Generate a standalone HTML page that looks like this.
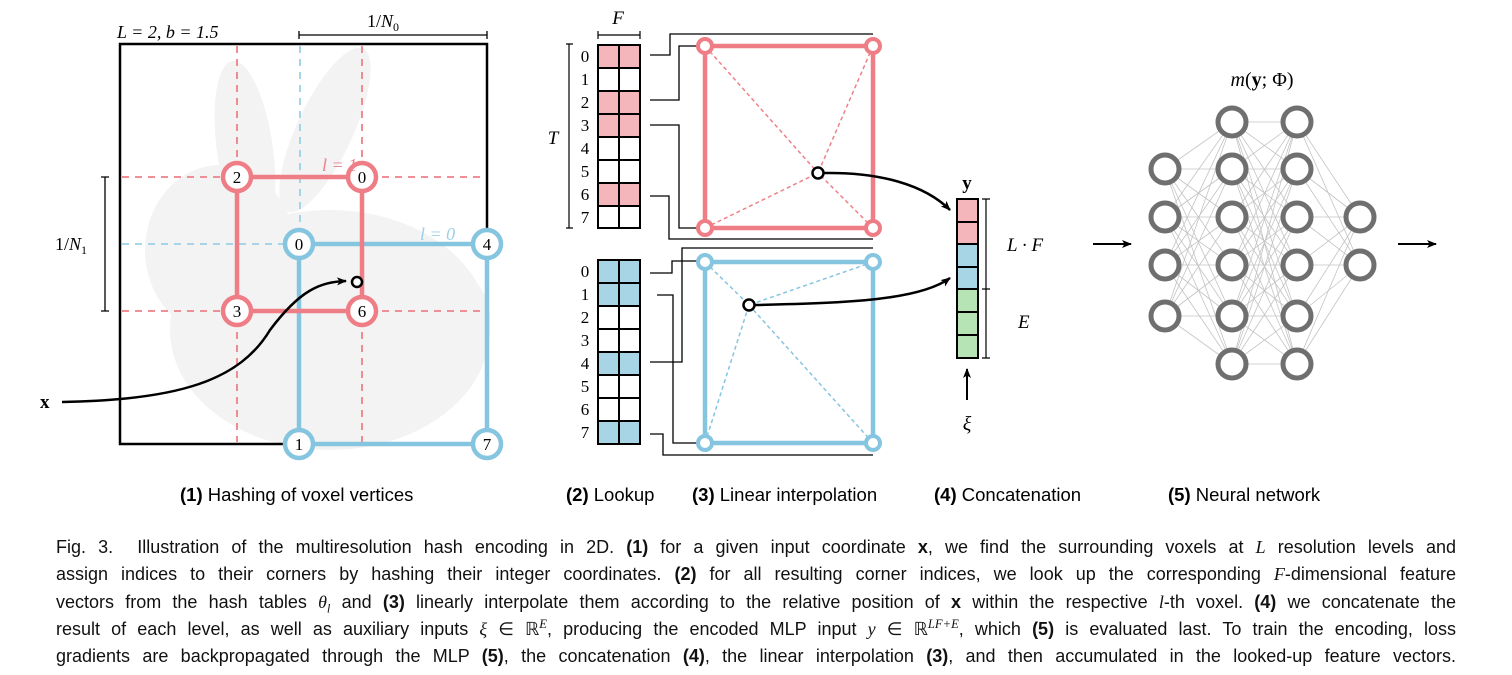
<!DOCTYPE html>
<html><head><meta charset="utf-8"><style>
body{margin:0;width:1512px;height:675px;background:#fff;overflow:hidden;position:relative;font-family:"Liberation Sans",sans-serif}
svg{position:absolute;left:0;top:0}
.cap{position:absolute;left:56px;width:1400px;font-size:18px;color:#111;line-height:27.3px;top:534px}
.cap div{text-align:justify;text-align-last:justify;white-space:nowrap;height:27.3px;overflow:visible}
.cap sup,.cap sub{line-height:0;font-size:70%}
.m{font-family:"Liberation Serif",serif;font-style:italic}
</style></head><body>
<svg width="1512" height="520" viewBox="0 0 1512 520" font-family="Liberation Serif, serif">
<defs>
<marker id="ah" markerWidth="10" markerHeight="8" refX="9" refY="4" orient="auto" markerUnits="userSpaceOnUse"><path d="M0,0 L10,4 L0,8 L2.5,4z" fill="#000"/></marker>
</defs>
<!-- bunny -->
<g fill="#f3f3f3">
<ellipse cx="330" cy="330" rx="160" ry="120"/>
<ellipse cx="220" cy="250" rx="75" ry="85"/>
<ellipse cx="245" cy="150" rx="28" ry="90" transform="rotate(-8 245 150)"/>
<ellipse cx="325" cy="130" rx="28" ry="90" transform="rotate(25 325 130)"/>
<ellipse cx="440" cy="320" rx="50" ry="55"/>
</g>
<!-- left panel -->
<rect x="120" y="44" width="367" height="400" fill="none" stroke="#000" stroke-width="2.5"/>
<g stroke="#ee8088" stroke-width="1.8" stroke-dasharray="7,6" fill="none">
<line x1="237" y1="46" x2="237" y2="442"/><line x1="362" y1="46" x2="362" y2="442"/>
<line x1="122" y1="177" x2="485" y2="177"/><line x1="122" y1="311" x2="485" y2="311"/>
</g>
<g stroke="#9cd0e6" stroke-width="1.8" stroke-dasharray="7,6">
<line x1="300" y1="46" x2="300" y2="244"/><line x1="122" y1="244" x2="300" y2="244"/>
</g>
<rect x="299" y="244" width="188" height="200" fill="none" stroke="#86c5e0" stroke-width="4.5"/>
<rect x="237" y="177" width="125" height="134" fill="none" stroke="#ee7d86" stroke-width="4.5"/>
<g font-size="17" text-anchor="middle" stroke-width="4.5">
<g stroke="#ee7d86" fill="#fff"><circle cx="237" cy="177" r="14"/><circle cx="362" cy="177" r="14"/><circle cx="237" cy="311" r="14"/><circle cx="362" cy="311" r="14"/></g>
<g stroke="#86c5e0" fill="#fff"><circle cx="299" cy="244" r="14"/><circle cx="487" cy="244" r="14"/><circle cx="299" cy="444" r="14"/><circle cx="487" cy="444" r="14"/></g>
<text x="237" y="183">2</text><text x="362" y="183">0</text><text x="237" y="317">3</text><text x="362" y="317">6</text>
<text x="299" y="250">0</text><text x="487" y="250">4</text><text x="299" y="450">1</text><text x="487" y="450">7</text>
</g>
<text x="322" y="171" font-size="18" fill="#ee8088" font-style="italic">l = 1</text>
<text x="420" y="240" font-size="18" fill="#9cd0e6" font-style="italic">l = 0</text>
<text x="117" y="38" font-size="18" font-style="italic">L = 2,  b = 1.5</text>
<text x="367" y="27" font-size="18">1/<tspan font-style="italic">N</tspan><tspan font-size="12" dy="4">0</tspan></text>
<path d="M299,31 v8 M299,35 H487 M487,31 v8" stroke="#000" stroke-width="1.3" fill="none"/>
<text x="55" y="250" font-size="18">1/<tspan font-style="italic">N</tspan><tspan font-size="12" dy="4">1</tspan></text>
<path d="M101,177 h8 M105,177 V311 M101,311 h8" stroke="#000" stroke-width="1.3" fill="none"/>
<text x="40" y="408" font-size="19" font-weight="bold">x</text>
<path d="M62,402 C180,400 240,380 270,330 C300,290 320,282 346,281" stroke="#000" stroke-width="2.5" fill="none" marker-end="url(#ah)"/>
<circle cx="357" cy="282" r="5" fill="#fff" stroke="#000" stroke-width="2.5"/>
<!-- tables -->
<text x="618" y="24" font-size="19" font-style="italic" text-anchor="middle">F</text>
<path d="M598,31 v8 M598,35 H640 M640,31 v8" stroke="#000" stroke-width="1.2" fill="none"/>
<path d="M566,44 h7 M569,44 V228 M566,228 h7" stroke="#000" stroke-width="1.2" fill="none"/>
<text x="553" y="144" font-size="19" font-style="italic" text-anchor="middle">T</text>
<g>
<g fill="#f4b6bb"><rect x="598" y="45" width="42" height="23"/><rect x="598" y="91" width="42" height="46"/><rect x="598" y="183" width="42" height="23"/></g>
<g fill="#a8d5e6"><rect x="598" y="260" width="42" height="46"/><rect x="598" y="352" width="42" height="23"/><rect x="598" y="421" width="42" height="23"/></g>
<g stroke="#000" stroke-width="2" fill="none">
<rect x="598" y="45" width="42" height="183"/><line x1="619" y1="45" x2="619" y2="228"/>
<path d="M598,68H640M598,91H640M598,114H640M598,137H640M598,160H640M598,183H640M598,206H640"/>
<rect x="598" y="260" width="42" height="184"/><line x1="619" y1="260" x2="619" y2="444"/>
<path d="M598,283H640M598,306H640M598,329H640M598,352H640M598,375H640M598,398H640M598,421H640"/>
</g>
<g font-size="17" text-anchor="middle">
<text x="585" y="62">0</text><text x="585" y="85">1</text><text x="585" y="108">2</text><text x="585" y="131">3</text><text x="585" y="154">4</text><text x="585" y="177">5</text><text x="585" y="200">6</text><text x="585" y="223">7</text>
<text x="585" y="277">0</text><text x="585" y="300">1</text><text x="585" y="323">2</text><text x="585" y="346">3</text><text x="585" y="369">4</text><text x="585" y="392">5</text><text x="585" y="415">6</text><text x="585" y="438">7</text>
</g></g>
<!-- connectors -->
<g stroke="#000" stroke-width="1.3" fill="none">
<path d="M650,55 H670 V34 H873"/><path d="M650,100 H679 V46 H705"/><path d="M650,125 H679 V228 H705"/><path d="M650,196 H669 V239 H873"/>
<path d="M650,273 H672 V261 H705"/><path d="M657,295 H673 V443 H705"/><path d="M650,362 H682 V248 H873"/><path d="M650,434 H663 V455 H873"/>
</g>
<!-- red square -->
<g stroke="#ee8088" stroke-width="1.5" stroke-dasharray="4,3"><path d="M705,46L818,173M873,46L818,173M705,228L818,173M873,228L818,173"/></g>
<rect x="705" y="46" width="168" height="182" fill="none" stroke="#ee7d86" stroke-width="4.5"/>
<g stroke="#ee7d86" stroke-width="4" fill="#fff"><circle cx="705" cy="46" r="7"/><circle cx="873" cy="46" r="7"/><circle cx="705" cy="228" r="7"/><circle cx="873" cy="228" r="7"/></g>
<!-- blue square -->
<g stroke="#86c5e0" stroke-width="1.5" stroke-dasharray="4,3"><path d="M705,262L749,305M873,262L749,305M705,443L749,305M873,443L749,305"/></g>
<rect x="705" y="262" width="168" height="181" fill="none" stroke="#86c5e0" stroke-width="4.5"/>
<g stroke="#86c5e0" stroke-width="4" fill="#fff"><circle cx="705" cy="262" r="7"/><circle cx="873" cy="262" r="7"/><circle cx="705" cy="443" r="7"/><circle cx="873" cy="443" r="7"/></g>
<path d="M824,173 C880,172 925,185 950,210" stroke="#000" stroke-width="2.5" fill="none" marker-end="url(#ah)"/>
<path d="M755,305 C850,303 920,300 950,278" stroke="#000" stroke-width="2.5" fill="none" marker-end="url(#ah)"/>
<circle cx="818" cy="173" r="5.5" fill="#fff" stroke="#000" stroke-width="2.5"/>
<circle cx="749" cy="305" r="5.5" fill="#fff" stroke="#000" stroke-width="2.5"/>
<!-- y vector -->
<text x="967" y="189" font-size="19" font-weight="bold" text-anchor="middle">y</text>
<g stroke="#000" stroke-width="2">
<rect x="957" y="199" width="21" height="23" fill="#f4b6bb"/><rect x="957" y="222" width="21" height="22" fill="#f4b6bb"/>
<rect x="957" y="244" width="21" height="23" fill="#a8d5e6"/><rect x="957" y="267" width="21" height="22" fill="#a8d5e6"/>
<rect x="957" y="289" width="21" height="23" fill="#b7e4b4"/><rect x="957" y="312" width="21" height="23" fill="#b7e4b4"/><rect x="957" y="335" width="21" height="23" fill="#b7e4b4"/>
</g>
<path d="M982,199 h8 M986,199 V358 M982,289 h8 M982,358 h8" stroke="#000" stroke-width="1.2" fill="none"/>
<text x="1007" y="251" font-size="19" font-style="italic">L · F</text>
<text x="1018" y="328" font-size="19" font-style="italic">E</text>
<line x1="967" y1="400" x2="967" y2="369" stroke="#000" stroke-width="2" marker-end="url(#ah)"/>
<text x="967" y="430" font-size="20" font-style="italic" text-anchor="middle">ξ</text>
<!-- NN -->
<line x1="1093" y1="244" x2="1131" y2="244" stroke="#000" stroke-width="2" marker-end="url(#ah)"/>
<line x1="1398" y1="244" x2="1436" y2="244" stroke="#000" stroke-width="2" marker-end="url(#ah)"/>
<text x="1262" y="86" font-size="20" text-anchor="middle"><tspan font-style="italic">m</tspan>(<tspan font-weight="bold">y</tspan>; Φ)</text>
<g stroke="#c4c4c4" stroke-width="0.8" id="edges"></g>
<g stroke="#6f6f6f" stroke-width="5" fill="#fff" id="nodes"></g>
</svg>
<script>
(function(){
var cols=[[1165,[169,217,265,316]],[1232,[122,169,217,265,316,364]],[1297,[122,169,217,265,316,364]],[1360,[217,265]]];
var e=document.getElementById('edges'),n=document.getElementById('nodes'),ns='http://www.w3.org/2000/svg';
for(var c=0;c<3;c++){cols[c][1].forEach(function(a){cols[c+1][1].forEach(function(b){var l=document.createElementNS(ns,'line');l.setAttribute('x1',cols[c][0]);l.setAttribute('y1',a);l.setAttribute('x2',cols[c+1][0]);l.setAttribute('y2',b);e.appendChild(l);});});}
cols.forEach(function(col){col[1].forEach(function(y){var k=document.createElementNS(ns,'circle');k.setAttribute('cx',col[0]);k.setAttribute('cy',y);k.setAttribute('r',14);n.appendChild(k);});});
})();
</script>
<div style="position:absolute;top:484px;font-size:18.5px;left:0;width:1512px">
<span style="position:absolute;left:180px"><b>(1)</b> Hashing of voxel vertices</span>
<span style="position:absolute;left:566px"><b>(2)</b> Lookup</span>
<span style="position:absolute;left:692px"><b>(3)</b> Linear interpolation</span>
<span style="position:absolute;left:934px"><b>(4)</b> Concatenation</span>
<span style="position:absolute;left:1168px"><b>(5)</b> Neural network</span>
</div>
<div class="cap">
<div>Fig. 3.&nbsp; Illustration of the multiresolution hash encoding in 2D. <b>(1)</b> for a given input coordinate <b>x</b>, we find the surrounding voxels at <span class="m">L</span> resolution levels and</div>
<div>assign indices to their corners by hashing their integer coordinates. <b>(2)</b> for all resulting corner indices, we look up the corresponding <span class="m">F</span>-dimensional feature</div>
<div>vectors from the hash tables <span class="m">θ<sub>l</sub></span> and <b>(3)</b> linearly interpolate them according to the relative position of <b>x</b> within the respective <span class="m">l</span>-th voxel. <b>(4)</b> we concatenate the</div>
<div>result of each level, as well as auxiliary inputs <span class="m">ξ</span> ∈ ℝ<sup class="m">E</sup>, producing the encoded MLP input <span class="m">y</span> ∈ ℝ<sup class="m">LF+E</sup>, which <b>(5)</b> is evaluated last. To train the encoding, loss</div>
<div>gradients are backpropagated through the MLP <b>(5)</b>, the concatenation <b>(4)</b>, the linear interpolation <b>(3)</b>, and then accumulated in the looked-up feature vectors.</div>
</div>
</body></html>
